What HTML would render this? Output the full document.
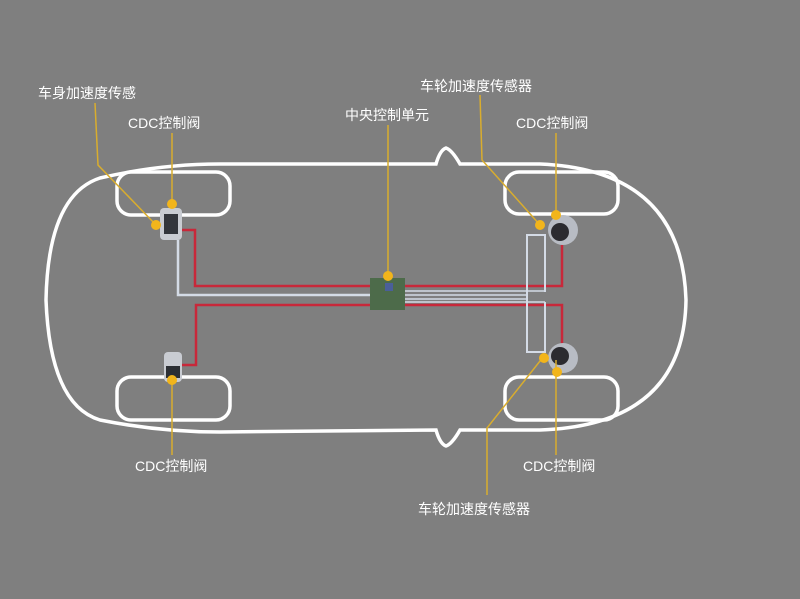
<!DOCTYPE html>
<html><head><meta charset="utf-8"><style>
html,body{margin:0;padding:0;background:#7f7f7f;}
svg{display:block}
text{font-family:"Liberation Sans","Noto Sans CJK SC",sans-serif;font-size:14px;fill:#fff}
</style></head><body>
<svg width="800" height="599" viewBox="0 0 800 599" xmlns="http://www.w3.org/2000/svg">
<rect width="800" height="599" fill="#7f7f7f"/>
<path d="M220,164 L436,164 Q440,150 446,148 Q452,150 460,164 L540,164 Q682,170 686,300 Q684,425 540,430 L460,430 Q452,444 446,446 Q440,444 436,430 L220,432 Q160,432 100,420 Q50,405 46,300 Q48,195 100,178 Q160,164 220,164 Z" fill="none" stroke="#fff" stroke-width="3.5"/>
<g fill="none" stroke="#fff" stroke-width="3.5">
<rect x="117" y="172" width="113" height="43" rx="14"/>
<rect x="117" y="377" width="113" height="43" rx="14"/>
<rect x="505" y="172" width="113" height="42" rx="14"/>
<rect x="505" y="377" width="113" height="43" rx="14"/>
</g>
<g fill="none" stroke-width="2.5">
<path d="M182,230 L195,230 L195,286 L372,286" stroke="#c8283a"/>
<path d="M178,240 L178,295 L372,295" stroke="#d4dbe6"/>
<path d="M372,305 L196,305 L196,365 L182,365" stroke="#c8283a"/>
<path d="M402,286 L562,286 L562,245" stroke="#c8283a"/>
<path d="M402,305 L562,305 L562,355" stroke="#c8283a"/>
<path d="M402,291 L545,291 M402,295 L527,295 M402,299 L527,299 M402,302 L545,302" stroke="#d4dbe6" stroke-width="1.6"/>
<path d="M545,292 L545,235 L527,235 L527,352 L545,352 L545,302" stroke="#d4dbe6" stroke-width="2"/>
</g>
<rect x="370" y="278" width="35" height="32" fill="#4d6b4a"/>
<rect x="385" y="283" width="8" height="8" fill="#4a5f9a"/>
<rect x="160" y="208" width="22" height="32" rx="4" fill="#c9ccd2"/>
<rect x="164" y="214" width="14" height="20" fill="#33363c"/>
<rect x="164" y="352" width="18" height="30" rx="4" fill="#c9ccd2"/>
<rect x="166" y="366" width="14" height="12" fill="#2c2f34"/>
<circle cx="563" cy="230" r="15" fill="#b8bcc4"/><circle cx="560" cy="232" r="9" fill="#2b2b30"/>
<circle cx="563" cy="358" r="15" fill="#b8bcc4"/><circle cx="560" cy="356" r="9" fill="#2b2b30"/>
<g fill="none" stroke="#d9ad2e" stroke-width="1.5">
<path d="M95,103 L98,165 L156,225"/>
<path d="M172,133 L172,203"/>
<path d="M388,125 L388,276"/>
<path d="M480,95 L482,160 L540,225"/>
<path d="M556,133 L556,215"/>
<path d="M172,380 L172,455"/>
<path d="M556,360 L556,455"/>
<path d="M487,495 L487,428 L544,356"/>
</g>
<g fill="#f2b51b">
<circle cx="156" cy="225" r="5"/><circle cx="172" cy="204" r="5"/>
<circle cx="388" cy="276" r="5"/><circle cx="540" cy="225" r="5"/>
<circle cx="556" cy="215" r="5"/><circle cx="172" cy="380" r="5"/>
<circle cx="544" cy="358" r="5"/><circle cx="557" cy="372" r="5"/>
</g>
<text x="38" y="98">车身加速度传感</text>
<text x="128" y="128">CDC控制阀</text>
<text x="345" y="120">中央控制单元</text>
<text x="420" y="91">车轮加速度传感器</text>
<text x="516" y="128">CDC控制阀</text>
<text x="135" y="471">CDC控制阀</text>
<text x="523" y="471">CDC控制阀</text>
<text x="418" y="514">车轮加速度传感器</text>
</svg>
</body></html>
